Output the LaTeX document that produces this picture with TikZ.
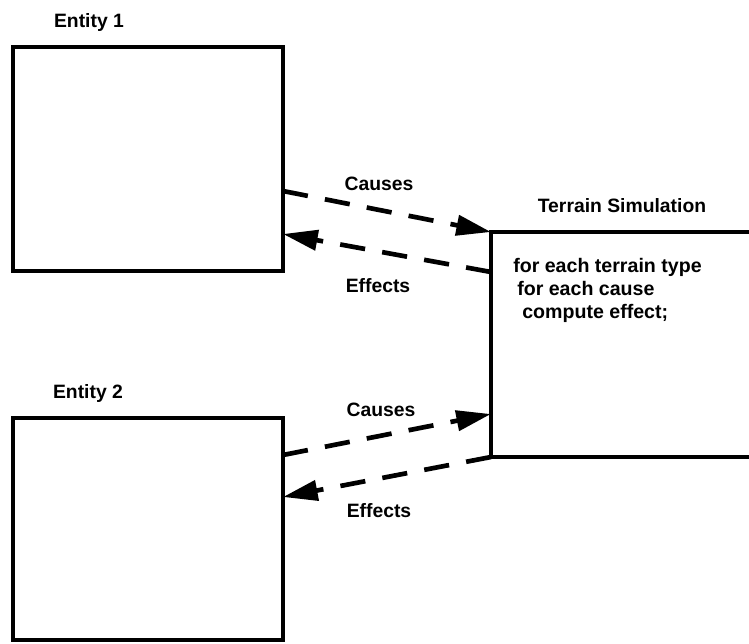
\documentclass[tikz,border=0pt]{standalone}
\usepackage{fontspec}
\setmainfont{Liberation Sans}
\usetikzlibrary{arrows.meta}
\begin{document}
\begin{tikzpicture}[x=0.75pt,y=-0.75pt,
  box/.style={draw,line width=3.2pt,inner sep=0pt,outer sep=0pt,anchor=north west},
  lbl/.style={font=\fontsize{14.5}{17}\selectfont\bfseries,inner sep=0pt,anchor=base},
  code/.style={font=\fontsize{14.7}{17}\selectfont\bfseries,inner sep=0pt,anchor=base west},
  flow/.style={line width=3.5pt,dash pattern=on 19pt off 13pt,-{Triangle[length=26pt,width=15pt]}}]
\useasboundingbox (0,0) rectangle (749,643);
\clip (0,0) rectangle (749,643);
\node[box,minimum width=202.5pt,minimum height=168pt] (e1) at (13,47) {};
\node[box,minimum width=202.5pt,minimum height=166.5pt] (e2) at (13,418) {};
\node[box,minimum width=210pt,minimum height=168.75pt] (ts) at (491,232) {};
\node[lbl] (l1) at (89,27) {Entity 1};
\node[lbl] (l2) at (88,398) {Entity 2};
\node[lbl] (lt) at (622,212) {Terrain Simulation};
\node[code] (c1) at (513,272) {for each terrain type};
\node[code] (c2) at (517,295) {for each cause};
\node[code] (c3) at (522,318) {compute effect;};
\node[lbl] (ca1) at (379,190) {Causes};
\node[lbl] (ef1) at (378,292) {Effects};
\node[lbl] (ca2) at (381,416) {Causes};
\node[lbl] (ef2) at (379,517) {Effects};
\draw[flow] (e1.east |- 0,191) -- (ts.north west);
\draw[flow] (ts.west |- 0,272) -- (e1.east |- 0,234);
\draw[flow] (e2.east |- 0,455) -- (ts.west |- 0,414);
\draw[flow] (ts.south west) -- (e2.east |- 0,497);
\end{tikzpicture}
\end{document}
